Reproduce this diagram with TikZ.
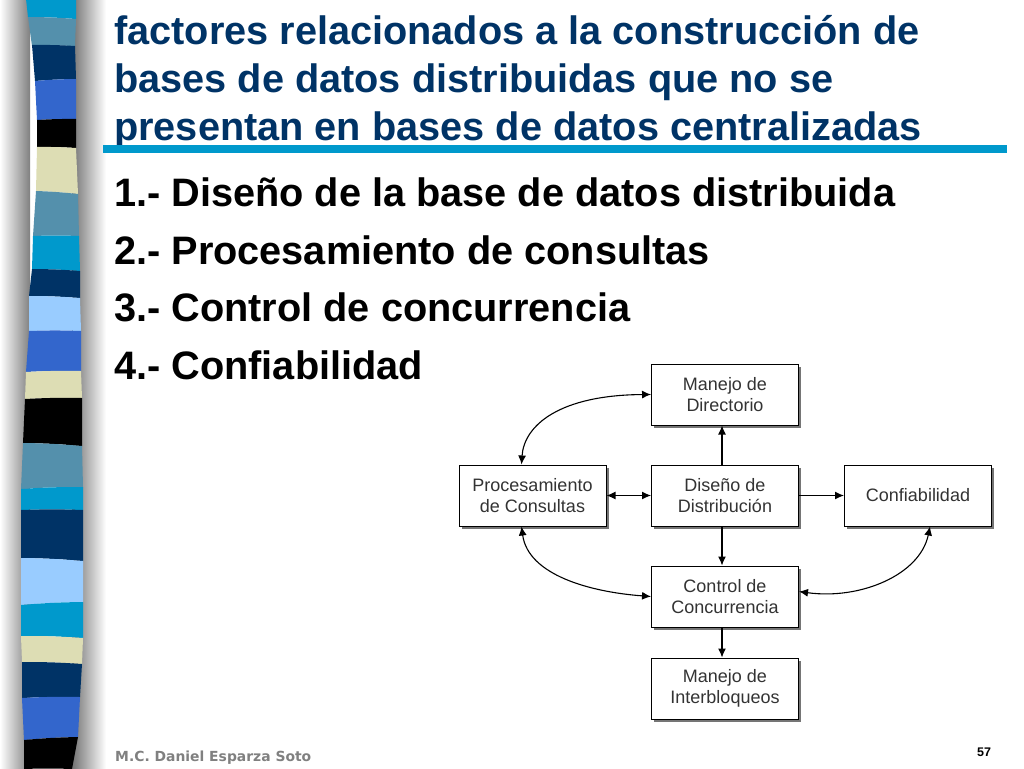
\documentclass[tikz,border=0pt]{standalone}
\usepackage{fontspec}
\setmainfont{Liberation Sans}
\newfontfamily\footfont{DejaVu Sans}
\usetikzlibrary{arrows.meta,shadows}
\definecolor{navyband}{HTML}{003366}
\definecolor{cyanband}{HTML}{0099CC}
\definecolor{steelband}{HTML}{5490AC}
\definecolor{royalband}{HTML}{3366CC}
\definecolor{beigeband}{HTML}{DDDDB4}
\definecolor{skyband}{HTML}{99CCFF}
\tikzset{
  titletext/.style = {anchor=base west, inner sep=0pt, text=navyband, font=\bfseries\fontsize{39.7}{40}\selectfont},
  itemtext/.style = {anchor=base west, inner sep=0pt, text=black, font=\bfseries\fontsize{39.7}{40}\selectfont},
  flowbox/.style = {shape=rectangle, draw=black, line width=1pt, fill=white, minimum width=147pt, minimum height=61pt, inner sep=0pt,
    align=center, text=black!80, font=\fontsize{18}{21}\selectfont,
    drop shadow={shadow xshift=2.5pt, shadow yshift=-2.5pt, fill=black!60, opacity=0.9}},
  flowline/.style = {line width=1.2pt, -{Latex[length=9pt,width=8pt]}},
  bothline/.style = {line width=1.1pt, {Latex[length=9pt,width=8pt]}-{Latex[length=9pt,width=8pt]}}
}
\begin{document}
\begin{tikzpicture}[x=1pt, y=-1pt]
\useasboundingbox (0,0) rectangle (1024,768);
% Shadow of the strip
\shade[left color=white, right color=black!50] (0,0) rectangle (30,768);
\shade[left color=black!55, right color=white] (72,0) rectangle (106,768);

% Strip
\foreach \bandcolor/\xa/\ya/\xb/\yb/\xc/\yc/\xd/\yd in {
  cyanband/26/-1/76/-1/28/17/76/19,
  steelband/28/17/76/19/32/46/75/46,
  navyband/32/45/75/46/35/81/76/79,
  royalband/35/81/76/79/37/120/76/119,
  black/37/120/76/119/37/147/76/148,
  beigeband/37/147/76/148/36/191/78/194,
  steelband/36/191/78/194/33/236/79/236,
  cyanband/33/236/79/236/32/269/80/271,
  navyband/32/269/80/271/29/296/80/298,
  skyband/29/296/80/298/29/331/81/331,
  royalband/29/331/81/331/26/372/81/371,
  beigeband/26/372/81/371/25/399/82/398,
  black/25/399/82/398/23/443/82/446,
  steelband/23/443/82/446/21/489/83/487,
  cyanband/21/489/83/487/21/510/83/510,
  navyband/21/510/83/510/21/558/83/561,
  skyband/21/558/83/561/21/605/83/602,
  cyanband/21/605/83/602/21/636/83/638,
  beigeband/21/636/83/638/22/662/82/664,
  navyband/22/662/82/664/22/698/80/697,
  royalband/22/698/80/697/24/740/78/737,
  black/24/740/78/737/24/769/72/769}
  \fill[\bandcolor] (\xa,\ya) to[bend left=2] (\xb,\yb) -- (\xd,\yd) to[bend right=2] (\xc,\yc) -- cycle;

% Title
\node[titletext] (titleone) at (114,44.5) {factores relacionados a la construcción de};
\node[titletext] (titletwo) at (114,92.5) {bases de datos distribuidas que no se};
\node[titletext] (titlethree) at (114,140.5) {presentan en bases de datos centralizadas};
\fill[cyanband] (103,145) rectangle (1007,153);

% Items
\node[itemtext] (itemone) at (114,206) {1.- Diseño de la base de datos distribuida};
\node[itemtext] (itemtwo) at (114,264) {2.- Procesamiento de consultas};
\node[itemtext] (itemthree) at (114,321) {3.- Control de concurrencia};
\node[itemtext] (itemfour) at (114,379) {4.- Confiabilidad};

% Boxes
\node[flowbox] (directorio) at (725,394.5) {Manejo de\\Directorio};
\node[flowbox] (consultas) at (532.5,495.5) {Procesamiento\\de Consultas};
\node[flowbox] (distribucion) at (725,495.5) {Diseño de\\Distribución};
\node[flowbox] (confiable) at (918,495.5) {Confiabilidad};
\node[flowbox] (concurrencia) at (725,596.5) {Control de\\Concurrencia};
\node[flowbox] (interbloqueo) at (725,688.5) {Manejo de\\Interbloqueos};

% Straight arrows
\draw[flowline] ([xshift=-3pt]distribucion.north) -- ([xshift=-3pt]directorio.south);
\draw[flowline] ([xshift=-3pt]distribucion.south) -- ([xshift=-3pt]concurrencia.north);
\draw[flowline] ([xshift=-3pt]concurrencia.south) -- ([xshift=-3pt]interbloqueo.north);
\draw[bothline] (consultas.east) -- (distribucion.west);
\draw[flowline] (distribucion.east) -- (confiable.west);

% Curved arrows
\draw[bothline] ([xshift=-11pt]consultas.north) .. controls (524,425) and (560,395) .. (directorio.west);
\draw[bothline] ([xshift=-11pt]consultas.south) .. controls (528,575) and (590,592) .. (concurrencia.west);
\draw[bothline] ([xshift=12pt]confiable.south) .. controls (920,575) and (860,600) .. ([yshift=5pt]concurrencia.east);

% Footer
\node[anchor=base west, inner sep=0pt, text=black!50, font=\footfont\bfseries\fontsize{13.9}{14}\selectfont] (autor) at (115,761) {M.C. Daniel Esparza Soto};
\node[anchor=base, inner sep=0pt, text=black, font=\bfseries\fontsize{12.5}{13}\selectfont] (pagina) at (984,756) {57};
\end{tikzpicture}
\end{document}
